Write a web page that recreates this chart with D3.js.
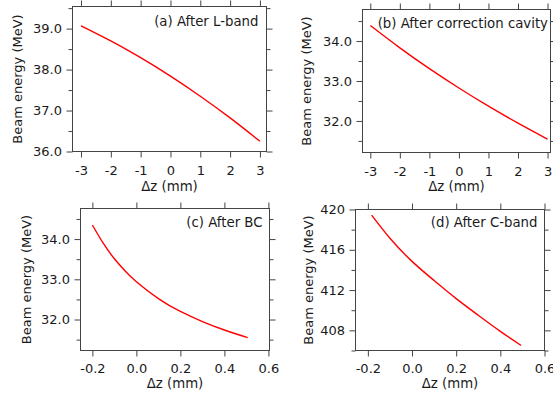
<!DOCTYPE html>
<html>
<head>
<meta charset="utf-8">
<script src="https://cdn.jsdelivr.net/npm/d3@7"></script>
<style>
  body { margin: 0; background: #fff; }
  svg { display: block; }
  text { font-family: "DejaVu Sans", sans-serif; fill: #1a1a1a; }
</style>
</head>
<body>
<svg id="chart" width="553" height="396"></svg>
<script>
// (a) After L-band
const zA = [-3, -2, -1, 0, 1, 2, 3];
const eA = [39.07, 38.70, 38.29, 37.84, 37.35, 36.82, 36.25];
// (b) After correction cavity
const zB = [-3, -2, -1, 0, 1, 2, 3];
const eB = [34.39, 33.83, 33.31, 32.825, 32.37, 31.945, 31.545];
// (c) After BC
const zC = [-0.2, -0.15, -0.1, -0.05, 0, 0.1, 0.2, 0.3, 0.4, 0.506];
const eC = [34.35, 33.89, 33.51, 33.2, 32.94, 32.52, 32.2, 31.95, 31.74, 31.55];
// (d) After C-band
const zD = [-0.183, -0.1, 0, 0.1, 0.2, 0.3, 0.4, 0.494];
const eD = [419.44, 417.15, 414.85, 412.95, 411.15, 409.5, 407.9, 406.5];

const panelLabels = ["(a) After L-band", "(b) After correction cavity", "(c) After BC", "(d) After C-band"];
const xTicksMm = [-3, -2, -1, 0, 1, 2, 3];
const xTicksBC = [-0.2, 0, 0.2, 0.4, 0.6];
const yTicksA = [36, 37, 38, 39];
const yMinorA = [36.5, 37.5, 38.5, 39.5];
const yTicksB = [32, 33, 34];
const yMinorB = [31.5, 32.5, 33.5, 34.5];
const yTicksD = [408, 412, 416, 420];
const yMinorD = [406, 410, 414, 418];

const xTitle = "Δz (mm)";
const yTitle = "Beam energy (MeV)";

const svg = d3.select("#chart");

// frame positions in px, domains picked so ticks land where they do in the figure
const panels = [
  { z: zA, e: eA, label: panelLabels[0], left: 72.5, right: 266.5, top: 6.5, bottom: 151.5,
    xd: [-3.285, 3.22], yd: [36, 39.54], xt: xTicksMm, xf: d => String(d),
    yt: yTicksA, ym: yMinorA, yf: d => d.toFixed(1), ytx: 22, xty: 191, pad: 8.5, ldx: 8, ldy: 19.5 },
  { z: zB, e: eB, label: panelLabels[1], left: 362.5, right: 550.5, top: 9.5, bottom: 152.5,
    xd: [-3.264, 3.1], yd: [31.21, 34.79], xt: xTicksMm, xf: d => String(d),
    yt: yTicksB, ym: yMinorB, yf: d => d.toFixed(1), ytx: 310.5, xty: 191, pad: 8, ldx: 2.5, ldy: 18.5 },
  { z: zC, e: eC, label: panelLabels[2], left: 80.5, right: 269.5, top: 208.5, bottom: 350.5,
    xd: [-0.254, 0.605], yd: [31.23, 34.76], xt: xTicksBC, xf: d => d.toFixed(1),
    yt: yTicksB, ym: yMinorB, yf: d => d.toFixed(1), ytx: 30.5, xty: 388, pad: 7, ldx: 7, ldy: 18.5 },
  { z: zD, e: eD, label: panelLabels[3], left: 355.5, right: 544.5, top: 209.5, bottom: 350.5,
    xd: [-0.256, 0.6], yd: [406, 420], xt: xTicksBC, xf: d => d.toFixed(1),
    yt: yTicksD, ym: yMinorD, yf: d => String(d), ytx: 312.5, xty: 388, pad: 7, ldx: 7, ldy: 17.5 }
];

const axisColor = "#444";

panels.forEach(p => {
  const x = d3.scaleLinear().domain(p.xd).range([p.left, p.right]);
  const y = d3.scaleLinear().domain(p.yd).range([p.bottom, p.top]);
  const g = svg.append("g");

  const styleAxis = sel => {
    sel.select(".domain").remove();
    sel.selectAll("line").attr("stroke", axisColor);
    sel.selectAll("text").attr("font-size", 13).attr("fill", "#1a1a1a")
      .style("font-family", "'DejaVu Sans', sans-serif");
  };

  // bottom + top
  g.append("g").attr("transform", `translate(0,${p.bottom})`)
    .call(d3.axisBottom(x).tickValues(p.xt).tickFormat(p.xf).tickSize(6).tickPadding(p.pad))
    .call(styleAxis);
  g.append("g").attr("transform", `translate(0,${p.top})`)
    .call(d3.axisTop(x).tickValues(p.xt).tickFormat("").tickSize(6))
    .call(styleAxis);

  // left + right, majors and minors
  g.append("g").attr("transform", `translate(${p.left},0)`)
    .call(d3.axisLeft(y).tickValues(p.yt).tickFormat(p.yf).tickSize(6).tickPadding(4.5))
    .call(styleAxis);
  g.append("g").attr("transform", `translate(${p.left},0)`)
    .call(d3.axisLeft(y).tickValues(p.ym).tickFormat("").tickSize(4))
    .call(styleAxis);
  g.append("g").attr("transform", `translate(${p.right},0)`)
    .call(d3.axisRight(y).tickValues(p.yt).tickFormat("").tickSize(6))
    .call(styleAxis);
  g.append("g").attr("transform", `translate(${p.right},0)`)
    .call(d3.axisRight(y).tickValues(p.ym).tickFormat("").tickSize(4))
    .call(styleAxis);

  // frame
  g.append("rect")
    .attr("x", p.left).attr("y", p.top)
    .attr("width", p.right - p.left).attr("height", p.bottom - p.top)
    .attr("fill", "none").attr("stroke", axisColor).attr("stroke-width", 1);

  const line = d3.line()
    .x((d, i) => x(p.z[i]))
    .y(d => y(d))
    .curve(d3.curveNatural);

  g.append("path")
    .datum(p.e)
    .attr("d", line)
    .attr("fill", "none")
    .attr("stroke", "#ff0000")
    .attr("stroke-width", 1.4);

  g.append("text")
    .text(p.label)
    .attr("x", p.right - p.ldx)
    .attr("y", p.top + p.ldy)
    .attr("text-anchor", "end")
    .attr("font-size", 13.3);

  g.append("text")
    .text(xTitle)
    .attr("x", (p.left + p.right) / 2)
    .attr("y", p.xty)
    .attr("text-anchor", "middle")
    .attr("font-size", 13.3);

  g.append("text")
    .text(yTitle)
    .attr("transform", `translate(${p.ytx},${(p.top + p.bottom) / 2}) rotate(-90)`)
    .attr("text-anchor", "middle")
    .attr("font-size", 13);
});
</script>
</body>
</html>
